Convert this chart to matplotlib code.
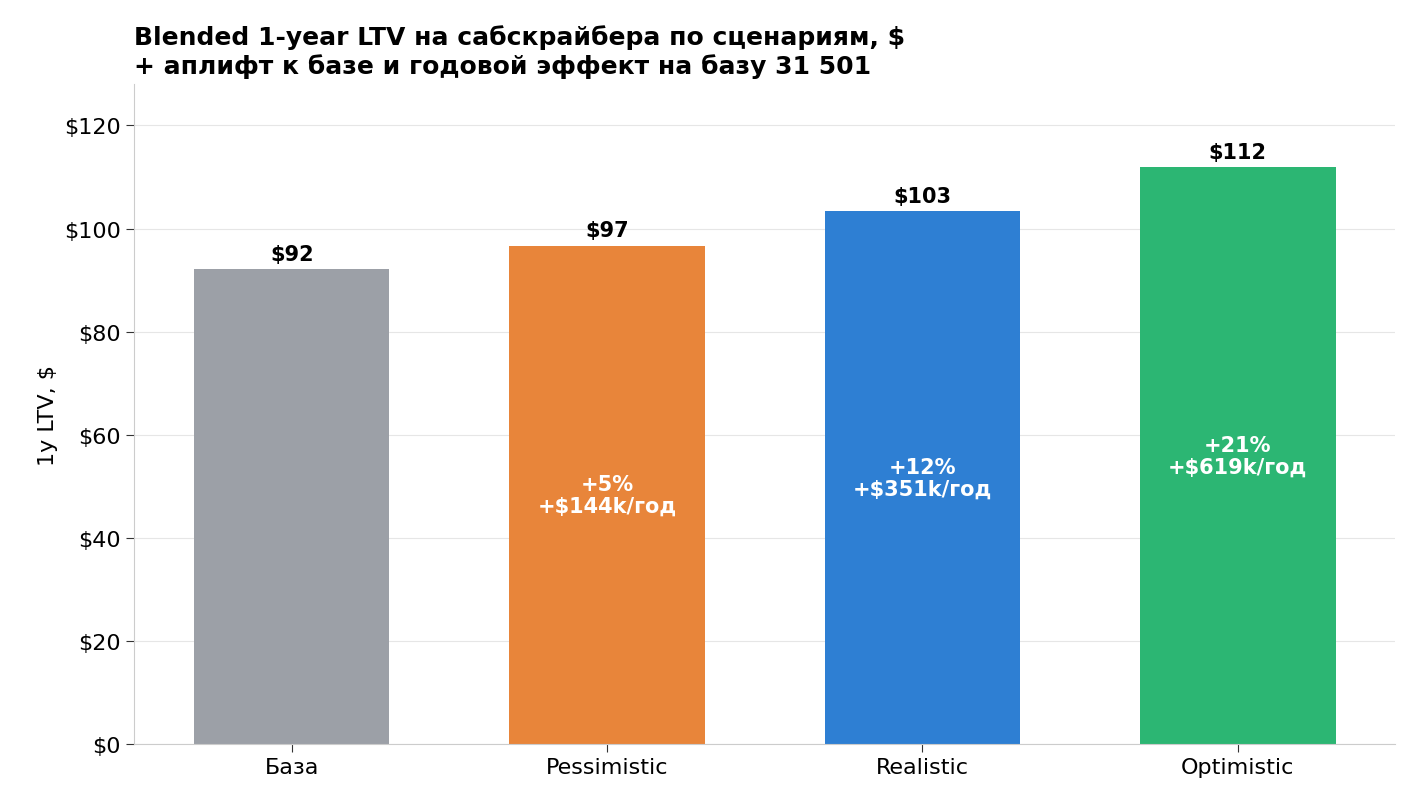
import matplotlib.pyplot as plt

categories = ["База", "Pessimistic", "Realistic", "Optimistic"]
values = [92.1, 96.7, 103.3, 111.9]
top_labels = ["$92", "$97", "$103", "$112"]
inner_labels = [None, "+5%\n+$144k/год", "+12%\n+$351k/год", "+21%\n+$619k/год"]
colors = ["#9ca0a7", "#e8853a", "#2e7fd3", "#2cb673"]
yticks = [0, 20, 40, 60, 80, 100, 120]

fig = plt.figure(figsize=(14.11, 8.03), dpi=100)
ax = fig.add_axes([0.095, 0.072, 0.894, 0.822])
x = range(len(categories))
bars = ax.bar(x, values, width=0.62, color=colors, zorder=2)
for i, (b, v) in enumerate(zip(bars, values)):
    ax.text(i, v + 1, top_labels[i], ha="center", va="bottom", fontsize=15, fontweight="bold")
    if inner_labels[i]:
        ax.text(i, v / 2, inner_labels[i], ha="center", va="center", fontsize=15,
                fontweight="bold", color="white", linespacing=1.1)
ax.set_xticks(list(x))
ax.set_xticklabels(categories, fontsize=16)
ax.set_yticks(yticks)
ax.set_yticklabels([f"${t}" for t in yticks], fontsize=16)
ax.set_ylim(0, 128)
ax.set_xlim(-0.5, 3.5)
ax.set_ylabel("1y LTV, $", fontsize=16)
ax.grid(axis="y", color="#e6e6e6", zorder=0)
for s in ["top", "right"]:
    ax.spines[s].set_visible(False)
for s in ["left", "bottom"]:
    ax.spines[s].set_color("#cccccc")
ax.tick_params(length=6, color="#333333")
ax.set_title("Blended 1-year LTV на сабскрайбера по сценариям, $\n+ аплифт к базе и годовой эффект на базу 31 501",
             loc="left", fontsize=18, fontweight="bold", pad=8)
fig.savefig("out.png", dpi=100)
